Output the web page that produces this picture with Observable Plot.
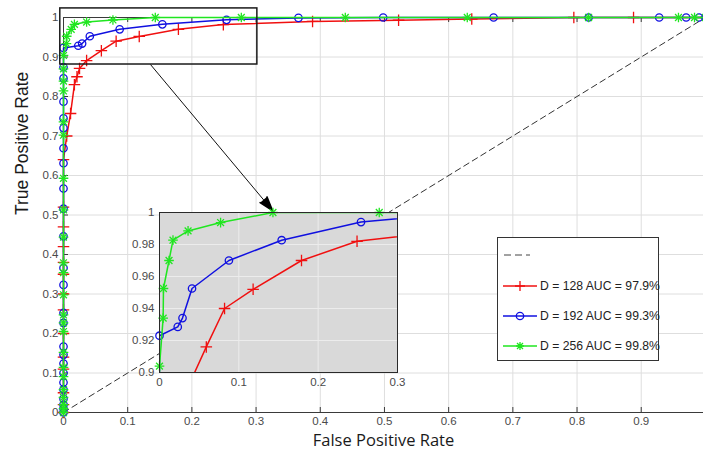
<!DOCTYPE html>
<html>
<head>
<meta charset="utf-8">
<script src="https://cdn.jsdelivr.net/npm/d3@7"></script>
<script src="https://cdn.jsdelivr.net/npm/@observablehq/plot@0.6"></script>
<style>
  html, body { margin: 0; padding: 0; background: white; }
  #wrap { position: relative; width: 703px; height: 451px; overflow: hidden; }
  #inset { position: absolute; left: 129px; top: 207px; }
  #legend { position: absolute; left: 497px; top: 237px; width: 160px; height: 122px;
    border: 1px solid #333; background: white; font-family: "Liberation Sans", Arial, sans-serif;
    font-size: 12.2px; color: #222; }
  .row { position: absolute; left: 4px; height: 14px; display: flex; align-items: center; }
  .row svg { display: block; }
  .row span { margin-left: 2px; white-space: nowrap; }
</style>
</head>
<body>
<div id="wrap"><div id="main"></div><div id="inset"></div><div id="legend"></div></div>
<script>
// ---- data ----
const xTicks = [0, 0.1, 0.2, 0.3, 0.4, 0.5, 0.6, 0.7, 0.8, 0.9];
const xTickLabels = ["0", "0.1", "0.2", "0.3", "0.4", "0.5", "0.6", "0.7", "0.8", "0.9"];
const yTicks = [0, 0.1, 0.2, 0.3, 0.4, 0.5, 0.6, 0.7, 0.8, 0.9, 1];
const yTickLabels = ["0", "0.1", "0.2", "0.3", "0.4", "0.5", "0.6", "0.7", "0.8", "0.9", "1"];
const insetXTicks = [0, 0.1, 0.2, 0.3];
const insetXLabels = ["0", "0.1", "0.2", "0.3"];
const insetYTicks = [0.9, 0.92, 0.94, 0.96, 0.98, 1];
const insetYLabels = ["0.9", "0.92", "0.94", "0.96", "0.98", "1"];

const seriesNames = ["D = 128 AUC = 97.9%", "D = 192 AUC = 99.3%", "D = 256 AUC = 99.8%"];

const red128 = [[0,0],[0,0.02],[0,0.05],[0,0.11],[0,0.14],[0,0.2],[0,0.26],[0,0.3],[0,0.35],[0,0.38],
  [0,0.42],[0,0.47],[0,0.52],[0,0.64],[0.005,0.70],[0.011,0.757],[0.017,0.83],[0.021,0.85],[0.025,0.871],
  [0.036,0.891],[0.059,0.916],[0.082,0.94],[0.118,0.952],[0.179,0.97],[0.249,0.982],[0.388,0.99],
  [0.522,0.993],[0.636,0.996],[0.795,1],[0.888,1],[1,1]];

const blue192 = [[0,0],[0,0.01],[0,0.02],[0,0.035],[0,0.058],[0,0.076],[0,0.1],[0,0.124],[0,0.146],[0,0.167],
  [0,0.227],[0,0.252],[0,0.323],[0,0.366],[0,0.446],[0,0.516],[0,0.567],[0,0.631],[0,0.669],[0,0.72],
  [0,0.745],[0,0.787],[0,0.846],[0,0.874],[0,0.923],[0.023,0.9285],[0.029,0.934],[0.041,0.9525],
  [0.0875,0.970],[0.154,0.9827],[0.254,0.994],[0.366,0.999],[0.498,1],[0.67,1],[0.818,1],[0.928,1],
  [0.97,1],[0.99,1],[1,1]];

const green256 = [[0,0],[0,0.01],[0,0.02],[0,0.038],[0,0.058],[0,0.091],[0,0.114],[0,0.152],[0,0.205],
  [0,0.227],[0,0.247],[0,0.298],[0,0.354],[0,0.379],[0,0.444],[0,0.513],[0,0.593],[0,0.702],[0,0.736],
  [0,0.814],[0,0.839],[0,0.87],[0,0.904],[0.0046,0.934],[0.005,0.9525],[0.012,0.970],[0.017,0.9827],
  [0.036,0.9885],[0.077,0.9937],[0.143,1],[0.277,1],[0.439,1],[0.629,1],[0.818,1],[0.958,1],[0.983,1],[1,1]];

const chanceLine = [[0,0],[1,1]];
const zoomBox = [{x1: -0.005, x2: 0.302, y1: 0.881, y2: 1.023}];
const zoomArrow = [{x1: 0.1355, y1: 0.881, x2: 0.3256, y2: 0.5114}];

// ---- styling ----
const colors = {red: "#f01010", blue: "#1010e0", green: "#20e620"};
const W = 703, H = 451, ML = 63, MR = 0, MT = 17, MB = 39;
const XMAX = 0.997;
const pw = W - ML - MR, ph = H - MT - MB;
const tickFont = {fontFamily: "'Liberation Sans', Arial, sans-serif", fontSize: "11.5px", color: "#4a4a4a"};

function seriesMarks(data, color, kind, extra = {}) {
  const {filterDots, ...lineExtra} = extra;
  const marks = [Plot.line(data, {x: d => d[0], y: d => d[1], stroke: color, strokeWidth: 1.5, ...lineExtra})];
  const dotData = filterDots ? data.filter(filterDots) : data;
  const common = {x: d => d[0], y: d => d[1], stroke: color, strokeWidth: 1.3, fill: "none"};
  if (kind === "plus") marks.push(Plot.dot(dotData, {...common, symbol: "plus", r: 3.8}));
  if (kind === "circle") marks.push(Plot.dot(dotData, {...common, symbol: "circle", r: 3.7}));
  if (kind === "star") {
    marks.push(Plot.dot(dotData, {...common, symbol: "plus", r: 3.2}));
    marks.push(Plot.dot(dotData, {...common, symbol: "times", r: 3.2}));
  }
  return marks;
}

// arrow head angle in screen space
const kx = pw / XMAX, ky = ph / 1;
const a = zoomArrow[0];
const headAngle = Math.atan2((a.x2 - a.x1) * kx, (a.y2 - a.y1) * ky) * 180 / Math.PI;

const main = Plot.plot({
  width: W, height: H, marginLeft: ML, marginRight: MR, marginTop: MT, marginBottom: MB,
  style: {...tickFont, background: "white"},
  x: {domain: [0, XMAX]},
  y: {domain: [0, 1]},
  marks: [
    Plot.gridX(xTicks, {stroke: "#dedede", strokeOpacity: 1}),
    Plot.gridY(yTicks, {stroke: "#dedede", strokeOpacity: 1}),
    Plot.ruleY([0, 1], {stroke: "#3a3a3a"}),
    Plot.ruleX([0], {stroke: "#3a3a3a"}),
    Plot.tickX(xTicks, {x: d => d, insetTop: ph - 5, stroke: "#3a3a3a"}),
    Plot.tickX(xTicks, {x: d => d, insetBottom: ph - 5, stroke: "#3a3a3a"}),
    Plot.tickY(yTicks, {y: d => d, insetRight: pw - 5, stroke: "#3a3a3a"}),
    Plot.axisX({ticks: xTicks, tickFormat: (d, i) => xTickLabels[i], tickSize: 0, tickPadding: 4, label: null}),
    Plot.axisY({ticks: yTicks, tickFormat: (d, i) => yTickLabels[i], tickSize: 0, tickPadding: 5, label: null}),
    Plot.line(chanceLine, {x: d => d[0], y: d => d[1], stroke: "#333", strokeWidth: 1, strokeDasharray: "6,4"}),
    ...seriesMarks(red128, colors.red, "plus"),
    ...seriesMarks(blue192, colors.blue, "circle"),
    ...seriesMarks(green256, colors.green, "star"),
    Plot.rect(zoomBox, {x1: "x1", x2: "x2", y1: "y1", y2: "y2", fill: "none", stroke: "#1a1a1a", strokeWidth: 1.5}),
    Plot.link(zoomArrow, {x1: "x1", y1: "y1", x2: "x2", y2: "y2", stroke: "#111", strokeWidth: 1}),
    Plot.vector(zoomArrow, {x: "x2", y: "y2", length: 14, rotate: headAngle, anchor: "end", shape: "spike", r: 4.5, fill: "#000", stroke: "#000"}),
    Plot.text(["False Positive Rate"], {frameAnchor: "bottom", dy: 33, fontSize: 16.5, fontFamily: "'Open Sans', sans-serif", fill: "#1a1a1a"}),
    Plot.text(["True Positive Rate"], {frameAnchor: "left", dx: -41, rotate: -90, fontSize: 17.5, fontFamily: "'Liberation Sans', Arial, sans-serif", fill: "#1a1a1a"})
  ]
});
document.getElementById("main").appendChild(main);

// ---- inset ----
const inDots = d => d[0] >= 0 && d[0] <= 0.3 && d[1] >= 0.9 && d[1] <= 1;
const inset = Plot.plot({
  width: 276, height: 185, marginLeft: 30, marginRight: 8, marginTop: 5, marginBottom: 20,
  style: {...tickFont, background: "transparent", overflow: "visible"},
  x: {domain: [0, 0.3]},
  y: {domain: [0.9, 1]},
  marks: [
    Plot.frame({fill: "#d9d9d9", stroke: null}),
    Plot.gridX(insetXTicks, {stroke: "#ececec", strokeOpacity: 1}),
    Plot.gridY(insetYTicks, {stroke: "#ececec", strokeOpacity: 1}),
    Plot.axisX({ticks: insetXTicks, tickFormat: (d, i) => insetXLabels[i], tickSize: 0, tickPadding: 5, label: null}),
    Plot.axisY({ticks: insetYTicks, tickFormat: (d, i) => insetYLabels[i], tickSize: 0, tickPadding: 5, label: null}),
    ...seriesMarks(red128, colors.red, "plus", {clip: true, filterDots: inDots}),
    ...seriesMarks(blue192, colors.blue, "circle", {clip: true, filterDots: inDots}),
    ...seriesMarks(green256, colors.green, "star", {clip: true, filterDots: inDots}),
    Plot.frame({stroke: "#2a2a2a", strokeWidth: 1})
  ]
});
document.getElementById("inset").appendChild(inset);

// ---- legend ----
const legend = document.getElementById("legend");
const legendItems = [
  {label: "", color: "#444", kind: "dash"},
  {label: seriesNames[0], color: colors.red, kind: "plus"},
  {label: seriesNames[1], color: colors.blue, kind: "circle"},
  {label: seriesNames[2], color: colors.green, kind: "star"}
];
const rowTops = [10, 41, 71, 101];
legendItems.forEach((it, i) => {
  const row = document.createElement("div");
  row.className = "row";
  row.style.top = rowTops[i] + "px";
  let sym = "";
  if (it.kind === "plus") sym = `<path d="M18,2V12M13,7H23" stroke="${it.color}" stroke-width="1.3"/>`;
  if (it.kind === "circle") sym = `<circle cx="18" cy="7" r="3.7" fill="none" stroke="${it.color}" stroke-width="1.3"/>`;
  if (it.kind === "star") sym = `<path d="M18,3V11M14,7H22M15,4L21,10M21,4L15,10" stroke="${it.color}" stroke-width="1.3"/>`;
  const line = it.kind === "dash"
    ? `<line x1="2" y1="7" x2="28" y2="7" stroke="${it.color}" stroke-width="1" stroke-dasharray="7,4"/>`
    : `<line x1="1" y1="7" x2="35" y2="7" stroke="${it.color}" stroke-width="1.5"/>`;
  row.innerHTML = `<svg width="36" height="14">${line}${sym}</svg>` + (it.label ? `<span>${it.label}</span>` : "");
  legend.appendChild(row);
});
</script>
</body>
</html>
